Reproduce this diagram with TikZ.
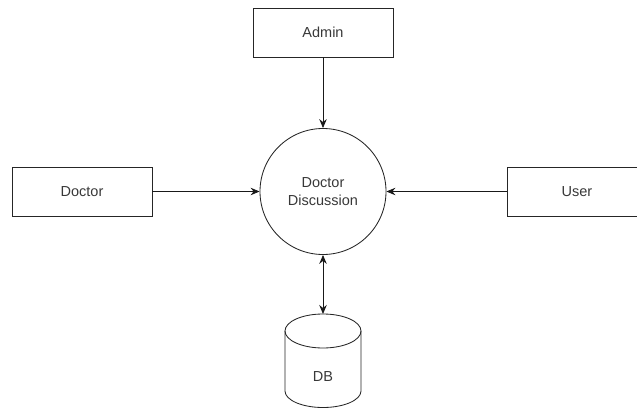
\documentclass[tikz,border=0pt]{standalone}
\usepackage{fontspec}
\setmainfont{Liberation Sans}
\usetikzlibrary{arrows.meta}
\begin{document}
\begin{tikzpicture}[x=1pt,y=1pt,
  lbl/.style={font=\fontsize{14.5}{17.5}\selectfont, text=black!78},
  box/.style={draw=black!85, line width=0.85pt, minimum width=140pt, minimum height=49pt, inner sep=0pt, lbl},
  proc/.style={circle, draw=black!85, line width=0.85pt, minimum size=126pt, inner sep=0pt, align=center, lbl},
  shp/.style={draw=black!85, line width=0.85pt},
  conn/.style={draw=black!90, line width=0.85pt, -{Stealth[length=9pt,width=7.5pt,inset=3pt]}},
  biconn/.style={draw=black!90, line width=0.85pt, {Stealth[length=9pt,width=7.5pt,inset=3pt]}-{Stealth[length=9pt,width=7.5pt,inset=3pt]}}]
\useasboundingbox (0,0) rectangle (637,-409);
\node[box] (admin) at (323,-32.5) {Admin};
\node[box] (doctor) at (82,-191.5) {Doctor};
\node[box] (user) at (577,-191.5) {User};
\node[proc] (dd) at (323,-191.5) {Doctor\\Discussion};
% cylinder
\draw[shp] (285,-331) -- (285,-391) arc[start angle=180, end angle=360, x radius=38, y radius=16.5] -- (361,-331);
\draw[shp] (323,-331) ellipse [x radius=38, y radius=17];
\node[lbl] (db) at (323,-377) {DB};
\coordinate (dbtop) at (323,-314);
\draw[conn] (admin) -- (dd);
\draw[conn] (doctor) -- (dd);
\draw[conn] (user) -- (dd);
\draw[biconn] (dd) -- (dbtop);
\end{tikzpicture}
\end{document}
